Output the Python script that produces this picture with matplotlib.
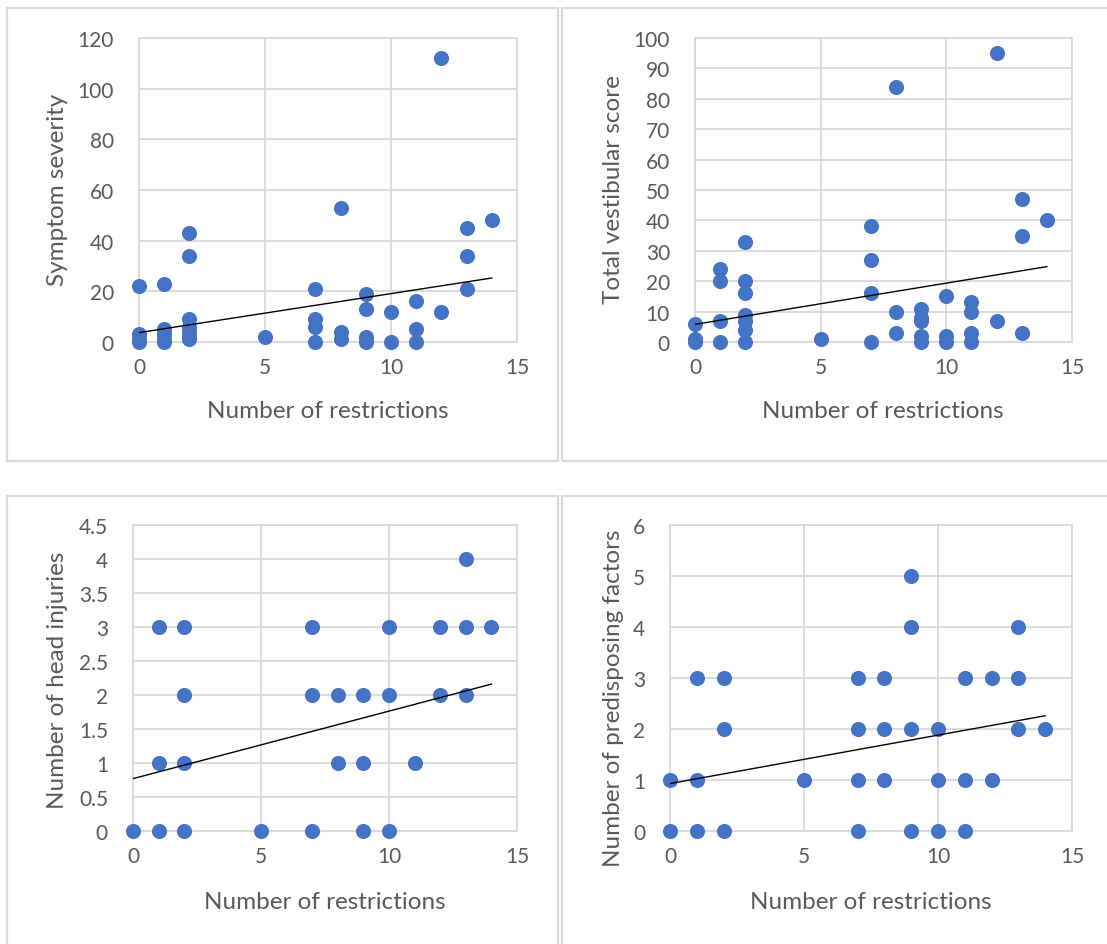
import matplotlib.pyplot as plt
from matplotlib.patches import Rectangle
import numpy as np

plt.rcParams['font.family'] = ['Lato', 'DejaVu Sans']

W, H = 1107, 945
BLUE = '#4472C4'
GRID = '#d9d9d9'
TEXT = '#595959'

# --- data ---
restr_sev = [0, 0, 0, 0, 1, 1, 1, 1, 1, 2, 2, 2, 2, 2, 2, 2, 5, 7, 7, 7, 7,
             8, 8, 8, 9, 9, 9, 9, 10, 10, 11, 11, 11, 12, 12, 13, 13, 13, 14]
severity = [22, 3, 1, 0, 23, 5, 3, 1, 0, 43, 34, 9, 6, 4, 2, 1, 2, 21, 9, 6, 0,
            53, 4, 1, 19, 13, 2, 0, 12, 0, 16, 5, 0, 112, 12, 45, 34, 21, 48]
sev_trend = (3.7, 1.54)  # intercept, slope

restr_vest = [0, 0, 0, 1, 1, 1, 1, 2, 2, 2, 2, 2, 2, 2, 5, 7, 7, 7, 7, 8, 8, 8,
              9, 9, 9, 9, 9, 10, 10, 10, 11, 11, 11, 11, 12, 12, 13, 13, 13, 14]
vestibular = [6, 1, 0, 24, 20, 7, 0, 33, 20, 16, 9, 7, 4, 0, 1, 38, 27, 16, 0, 84, 10, 3,
              11, 8, 7, 2, 0, 15, 2, 0, 13, 10, 3, 0, 95, 7, 47, 35, 3, 40]
vest_trend = (5.8, 1.357)

restr_head = [0, 1, 2, 5, 7, 9, 10,
              1, 2, 8, 9, 11,
              2, 7, 8, 9, 10, 12, 13,
              1, 2, 7, 10, 12, 13, 14,
              13]
head_inj = [0, 0, 0, 0, 0, 0, 0,
            1, 1, 1, 1, 1,
            2, 2, 2, 2, 2, 2, 2,
            3, 3, 3, 3, 3, 3, 3,
            4]
head_trend = (0.77, 0.0993)

restr_pred = [0, 1, 2, 7, 9, 10, 11,
              0, 1, 5, 7, 8, 10, 11, 12,
              2, 7, 8, 9, 10, 13, 14,
              1, 2, 7, 8, 11, 12, 13,
              9, 13,
              9]
predisp = [0, 0, 0, 0, 0, 0, 0,
           1, 1, 1, 1, 1, 1, 1, 1,
           2, 2, 2, 2, 2, 2, 2,
           3, 3, 3, 3, 3, 3, 3,
           4, 4,
           5]
pred_trend = (0.93, 0.095)

panels = [
    dict(x=restr_sev, y=severity, trend=sev_trend, ylabel='Symptom severity',
         ylim=(0, 120), yticks=np.arange(0, 121, 20), ylabels=None,
         box=(139, 39, 517, 343), ylab_pos=(57, 190), xlab_pos=(328, 412)),
    dict(x=restr_vest, y=vestibular, trend=vest_trend, ylabel='Total vestibular score',
         ylim=(0, 100), yticks=np.arange(0, 101, 10), ylabels=None,
         box=(695, 39, 1072, 343), ylab_pos=(614, 190), xlab_pos=(883, 412)),
    dict(x=restr_head, y=head_inj, trend=head_trend, ylabel='Number of head injuries',
         ylim=(0, 4.5), yticks=np.arange(0, 4.51, 0.5),
         ylabels=['0', '0.5', '1', '1.5', '2', '2.5', '3', '3.5', '4', '4.5'],
         box=(133, 526, 517, 832), ylab_pos=(57, 680), xlab_pos=(325, 903)),
    dict(x=restr_pred, y=predisp, trend=pred_trend, ylabel='Number of predisposing factors',
         ylim=(0, 6), yticks=np.arange(0, 7, 1), ylabels=None,
         box=(670, 526, 1072, 832), ylab_pos=(613, 698), xlab_pos=(871, 903)),
]

fig = plt.figure(figsize=(W / 100, H / 100), dpi=100)

# chart area borders
for (x0, y0, x1, y1) in [(7, 9, 558, 462), (562, 9, 1115, 462),
                         (7, 497, 558, 955), (562, 497, 1115, 955)]:
    fig.add_artist(Rectangle((x0 / W, 1 - y1 / H), (x1 - x0) / W, (y1 - y0) / H,
                             transform=fig.transFigure, fill=False,
                             ec=GRID, lw=1.6))

for p in panels:
    x0, y0, x1, y1 = p['box']
    ax = fig.add_axes([x0 / W, 1 - y1 / H, (x1 - x0) / W, (y1 - y0) / H])
    ax.set_xlim(0, 15)
    ax.set_ylim(*p['ylim'])
    ax.set_xticks([0, 5, 10, 15])
    ax.set_yticks(p['yticks'])
    if p['ylabels'] is not None:
        ax.set_yticklabels(p['ylabels'])
    ax.grid(True, color=GRID, lw=1.3, zorder=0)
    ax.set_axisbelow(True)
    for s in ax.spines.values():
        s.set_color(GRID)
        s.set_linewidth(1.3)
    ax.tick_params(length=0, labelsize=15, labelcolor=TEXT, pad=11)
    ax.tick_params(axis='y', pad=18)
    ax.scatter(p['x'], p['y'], s=118, color=BLUE, zorder=3, clip_on=False,
               linewidths=0)
    b, m = p['trend']
    tx = np.array([0, 14])
    ax.plot(tx, b + m * tx, color='black', lw=1.0, zorder=4)
    fig.text(p['ylab_pos'][0] / W, 1 - p['ylab_pos'][1] / H, p['ylabel'],
             rotation=90, ha='center', va='center', fontsize=17.5, color=TEXT)
    fig.text(p['xlab_pos'][0] / W, 1 - p['xlab_pos'][1] / H, 'Number of restrictions',
             ha='center', va='center', fontsize=17.5, color=TEXT)

fig.savefig('out.png', dpi=100)
